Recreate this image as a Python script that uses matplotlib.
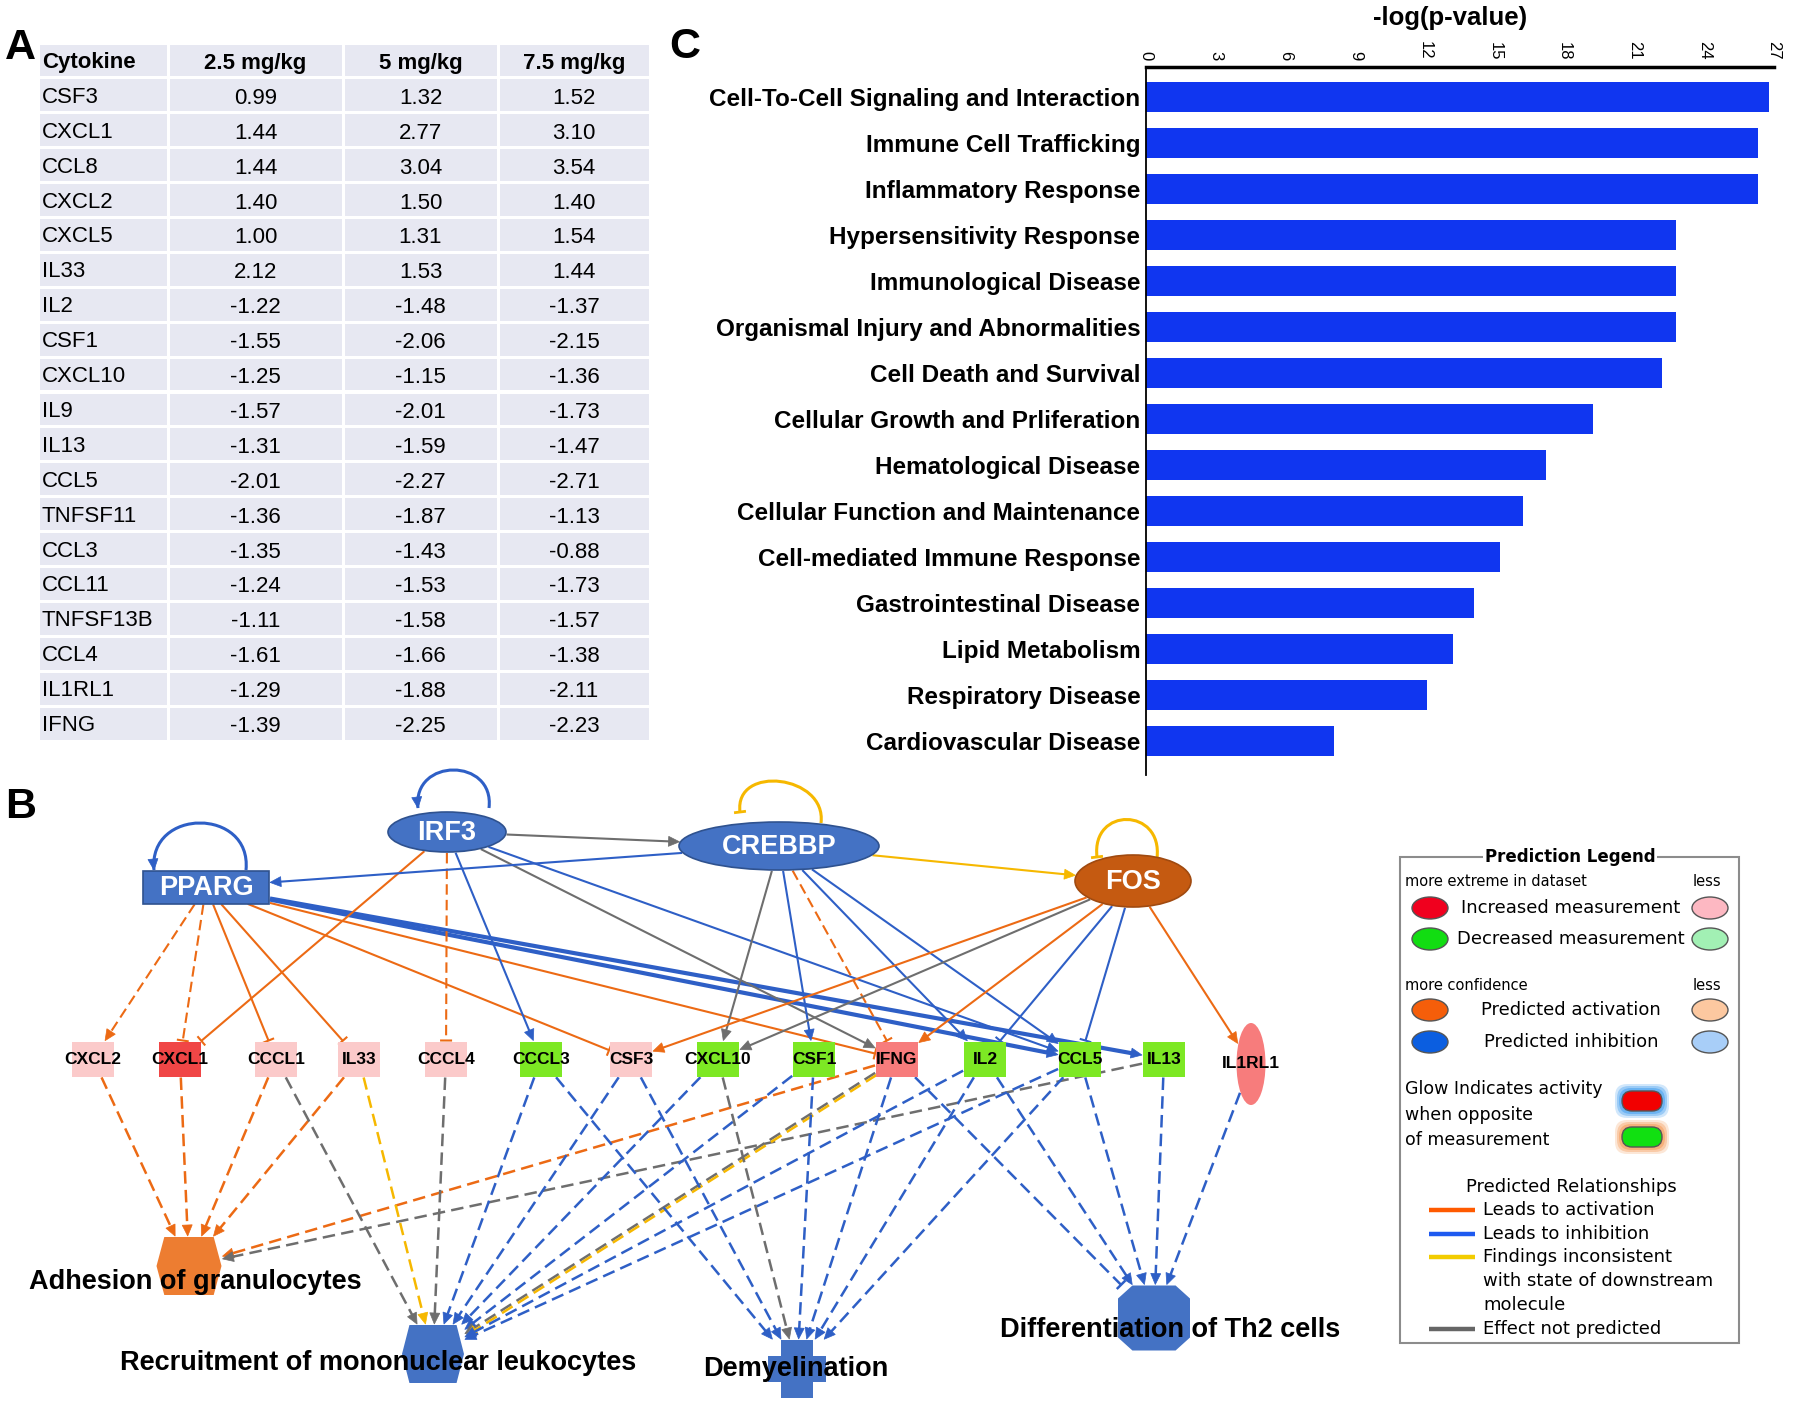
import numpy as np
import matplotlib
matplotlib.use('Agg')
import matplotlib.pyplot as plt
from matplotlib.patches import Rectangle, Ellipse, Polygon, FancyBboxPatch, PathPatch
from matplotlib.path import Path

plt.rcParams['font.family'] = ['Liberation Sans', 'DejaVu Sans']

# ---------------- panel A: fold change table
cytokines = ['CSF3', 'CXCL1', 'CCL8', 'CXCL2', 'CXCL5', 'IL33', 'IL2', 'CSF1', 'CXCL10', 'IL9',
             'IL13', 'CCL5', 'TNFSF11', 'CCL3', 'CCL11', 'TNFSF13B', 'CCL4', 'IL1RL1', 'IFNG']
doses = ['2.5 mg/kg', '5 mg/kg', '7.5 mg/kg']
fc_2_5 = [0.99, 1.44, 1.44, 1.40, 1.00, 2.12, -1.22, -1.55, -1.25, -1.57,
          -1.31, -2.01, -1.36, -1.35, -1.24, -1.11, -1.61, -1.29, -1.39]
fc_5 = [1.32, 2.77, 3.04, 1.50, 1.31, 1.53, -1.48, -2.06, -1.15, -2.01,
        -1.59, -2.27, -1.87, -1.43, -1.53, -1.58, -1.66, -1.88, -2.25]
fc_7_5 = [1.52, 3.10, 3.54, 1.40, 1.54, 1.44, -1.37, -2.15, -1.36, -1.73,
          -1.47, -2.71, -1.13, -0.88, -1.73, -1.57, -1.38, -2.11, -2.23]

# ---------------- panel C: enriched categories
pathways = ['Cell-To-Cell Signaling and Interaction', 'Immune Cell Trafficking', 'Inflammatory Response',
            'Hypersensitivity Response', 'Immunological Disease', 'Organismal Injury and Abnormalities',
            'Cell Death and Survival', 'Cellular Growth and Prliferation', 'Hematological Disease',
            'Cellular Function and Maintenance', 'Cell-mediated Immune Response', 'Gastrointestinal Disease',
            'Lipid Metabolism', 'Respiratory Disease', 'Cardiovascular Disease']
neg_log_p = [26.8, 26.3, 26.3, 22.8, 22.8, 22.8, 22.2, 19.2, 17.2, 16.2, 15.2, 14.1, 13.2, 12.1, 8.1]

# ---------------- panel B: regulator network
regulators = ['PPARG', 'IRF3', 'CREBBP', 'FOS']
regulator_state = ['inhibited', 'inhibited', 'inhibited', 'activated']
molecules = ['CXCL2', 'CXCL1', 'CCCL1', 'IL33', 'CCCL4', 'CCCL3', 'CSF3', 'CXCL10', 'CSF1',
             'IFNG', 'IL2', 'CCL5', 'IL13', 'IL1RL1']
molecule_state = ['up_low', 'up_high', 'up_low', 'up_low', 'up_low', 'down', 'up_low', 'down', 'down',
                  'up_mid', 'down', 'down', 'down', 'up_mid']
functions = ['Adhesion of granulocytes', 'Recruitment of mononuclear leukocytes',
             'Demyelination', 'Differentiation of Th2 cells']
function_state = ['activated', 'inhibited', 'inhibited', 'inhibited']
ADH, REC, DEM, TH2 = functions

# (source, target, relationship, dashed, end)
upstream_edges = [
    ('PPARG', 'CXCL2', 'activation', True, 'arrow'),
    ('PPARG', 'CXCL1', 'activation', True, 'bar'),
    ('PPARG', 'CCCL1', 'activation', False, 'bar'),
    ('PPARG', 'IL33', 'activation', False, 'bar'),
    ('PPARG', 'CSF3', 'activation', False, 'bar'),
    ('PPARG', 'IFNG', 'activation', False, 'bar'),
    ('PPARG', 'CCL5', 'inhibition', False, 'arrow'),
    ('PPARG', 'IL13', 'inhibition', False, 'arrow'),
    ('IRF3', 'CXCL1', 'activation', False, 'bar'),
    ('IRF3', 'CCCL4', 'activation', True, 'bar'),
    ('IRF3', 'CCCL3', 'inhibition', False, 'arrow'),
    ('IRF3', 'CREBBP', 'unpredicted', False, 'arrow'),
    ('IRF3', 'IFNG', 'unpredicted', False, 'arrow'),
    ('IRF3', 'CCL5', 'inhibition', False, 'arrow'),
    ('CREBBP', 'PPARG', 'inhibition', False, 'arrow'),
    ('CREBBP', 'CXCL10', 'unpredicted', False, 'arrow'),
    ('CREBBP', 'CSF1', 'inhibition', False, 'arrow'),
    ('CREBBP', 'IFNG', 'activation', True, 'bar'),
    ('CREBBP', 'IL2', 'inhibition', False, 'arrow'),
    ('CREBBP', 'CCL5', 'inhibition', False, 'arrow'),
    ('CREBBP', 'FOS', 'inconsistent', False, 'arrow'),
    ('FOS', 'CSF3', 'activation', False, 'arrow'),
    ('FOS', 'CXCL10', 'unpredicted', False, 'arrow'),
    ('FOS', 'IFNG', 'activation', False, 'arrow'),
    ('FOS', 'IL2', 'inhibition', False, 'bar'),
    ('FOS', 'CCL5', 'inhibition', False, 'bar'),
    ('FOS', 'IL1RL1', 'activation', False, 'arrow'),
]
downstream_edges = [
    ('CXCL2', ADH, 'activation', True, 'arrow'),
    ('CXCL1', ADH, 'activation', True, 'arrow'),
    ('CCCL1', ADH, 'activation', True, 'arrow'),
    ('IL33', ADH, 'activation', True, 'arrow'),
    ('IFNG', ADH, 'activation', True, 'arrow'),
    ('IL13', ADH, 'unpredicted', True, 'arrow'),
    ('CCCL1', REC, 'unpredicted', True, 'arrow'),
    ('IL33', REC, 'inconsistent', True, 'arrow'),
    ('CCCL4', REC, 'unpredicted', True, 'arrow'),
    ('CCCL3', REC, 'inhibition', True, 'arrow'),
    ('CSF3', REC, 'inhibition', True, 'arrow'),
    ('CXCL10', REC, 'inhibition', True, 'arrow'),
    ('CSF1', REC, 'inhibition', True, 'arrow'),
    ('IFNG', REC, 'unpredicted', True, 'arrow'),
    ('IFNG', REC, 'inconsistent', True, 'arrow'),
    ('IL2', REC, 'inhibition', True, 'arrow'),
    ('CCL5', REC, 'inhibition', True, 'arrow'),
    ('CCCL3', DEM, 'inhibition', True, 'arrow'),
    ('CSF3', DEM, 'inhibition', True, 'arrow'),
    ('CXCL10', DEM, 'unpredicted', True, 'arrow'),
    ('CSF1', DEM, 'inhibition', True, 'arrow'),
    ('IFNG', DEM, 'inhibition', True, 'arrow'),
    ('IL2', DEM, 'inhibition', True, 'arrow'),
    ('CCL5', DEM, 'inhibition', True, 'arrow'),
    ('IFNG', TH2, 'inhibition', True, 'bar'),
    ('IL2', TH2, 'inhibition', True, 'arrow'),
    ('CCL5', TH2, 'inhibition', True, 'arrow'),
    ('IL13', TH2, 'inhibition', True, 'arrow'),
    ('IL1RL1', TH2, 'inhibition', True, 'arrow'),
]
# (node, relationship, end)
self_loops = [('PPARG', 'inhibition', 'arrow'), ('IRF3', 'inhibition', 'arrow'),
              ('CREBBP', 'inconsistent', 'bar'), ('FOS', 'inconsistent', 'bar')]

# legend content
measure_rows = ['Increased measurement', 'Decreased measurement']
confidence_rows = ['Predicted activation', 'Predicted inhibition']
glow_lines = ['Glow Indicates activity', 'when opposite', 'of measurement']
relationship_rows = [('activation', ['Leads to activation']),
                     ('inhibition', ['Leads to inhibition']),
                     ('inconsistent', ['Findings inconsistent', 'with state of downstream', 'molecule']),
                     ('unpredicted', ['Effect not predicted'])]

# ---------------- layout / styles (pixel coordinates)
layout = {
    'PPARG': (206, 887, 126, 33, 'rect'),
    'IRF3': (447, 832, 118, 40, 'ellipse'),
    'CREBBP': (779, 846, 200, 48, 'ellipse'),
    'FOS': (1133, 881, 116, 52, 'ellipse'),
    ADH: (189, 1266, 65, 58, 'hexagon'),
    REC: (433, 1354, 62, 58, 'hexagon'),
    DEM: (797, 1369, 58, 58, 'cross'),
    TH2: (1154, 1318, 72, 65, 'octagon'),
}
mol_x = [93, 180, 276, 359, 446, 541, 631, 718, 814, 897, 985, 1080, 1164, 1251]
for m, x in zip(molecules, mol_x):
    layout[m] = (x, 1059, 42, 35, 'rect')
layout['IL1RL1'] = (1251, 1064, 29, 82, 'ellipse')
function_label_pos = {ADH: (195, 1282), REC: (378, 1363), DEM: (796, 1369), TH2: (1170, 1330)}
loop_anchor = {'PPARG': ((246, 870), (154, 870), 47), 'IRF3': ((489, 808), (418, 808), 38),
               'CREBBP': ((821, 823), (740, 812), 36), 'FOS': ((1157, 858), (1097, 857), 38)}
thick_links = {('PPARG', 'CCL5'), ('PPARG', 'IL13')}

edge_col = {'activation': '#EC6A14', 'inhibition': '#2E5FC6', 'inconsistent': '#F6B800',
            'unpredicted': '#6E6E6E'}
node_blue, node_blue_edge = '#4472C4', '#2F528F'
reg_col = {'inhibited': node_blue, 'activated': '#C55A11'}
func_col = {'inhibited': node_blue, 'activated': '#ED7D31'}
mol_col = {'up_high': '#F04646', 'up_mid': '#F77C7C', 'up_low': '#FBCACA', 'down': '#7DE824'}

fig = plt.figure(figsize=(18, 14.06), dpi=100)
ax = fig.add_axes([0, 0, 1, 1])
ax.set_xlim(0, 1800)
ax.set_ylim(1406, 0)
ax.axis('off')

# panel letters
ax.text(20, 48, 'A', ha='center', va='center', fontsize=31, weight='bold')
ax.text(685, 47, 'C', ha='center', va='center', fontsize=31, weight='bold')
ax.text(21, 807, 'B', ha='center', va='center', fontsize=31, weight='bold')

# ---------------- table
col_edges = [38, 168, 343, 498, 650]
row_top, row_h = 43, 34.9
rows = [['Cytokine'] + doses] + [[c, f'{a:.2f}', f'{b:.2f}', f'{d:.2f}']
                                  for c, a, b, d in zip(cytokines, fc_2_5, fc_5, fc_7_5)]
for r, row in enumerate(rows):
    y0 = row_top + r * row_h
    for c, txt in enumerate(row):
        x0, x1 = col_edges[c], col_edges[c + 1]
        ax.add_patch(Rectangle((x0 + 1.5, y0 + 1.5), x1 - x0 - 3, row_h - 3, fc='#E7E8F2', ec='none'))
        wt = 'bold' if r == 0 else 'normal'
        if c == 0:
            ax.text(x0 + 4, y0 + row_h / 2 + 2, txt, ha='left', va='center', fontsize=16, weight=wt)
        else:
            ax.text((x0 + x1) / 2, y0 + row_h / 2 + 3, txt, ha='center', va='center', fontsize=16, weight=wt)

# ---------------- bar chart
bx = fig.add_axes([1146 / 1800, 1 - 775 / 1406, 628 / 1800, 708 / 1406])
bx.patch.set_alpha(0)
ypos = np.arange(len(pathways))
bx.barh(ypos, neg_log_p, height=0.65, color='#1036F0')
bx.set_xlim(0, 27)
bx.set_ylim(len(pathways) - 0.27, -0.65)
bx.set_xticks(np.arange(0, 28, 3))
bx.xaxis.tick_top()
bx.tick_params(axis='x', length=0, labelsize=12, labelrotation=-90, pad=5)
bx.set_yticks(ypos)
bx.set_yticklabels(pathways, fontsize=17.5, fontweight='bold')
bx.tick_params(axis='y', length=0, pad=4)
for s in ['right', 'bottom']:
    bx.spines[s].set_visible(False)
bx.spines['top'].set_linewidth(2.5)
bx.spines['left'].set_linewidth(1.3)
ax.text(1450, 18, '-log(p-value)', ha='center', va='center', fontsize=18.5, weight='bold')


# ---------------- network helpers
def reach(node, u):
    cx, cy, w, h, kind = layout[node]
    ux, uy = abs(u[0]) + 1e-9, abs(u[1]) + 1e-9
    if kind == 'ellipse':
        return 1 / np.hypot(ux / (w / 2), uy / (h / 2))
    return min(w / 2 / ux, h / 2 / uy)


def draw_end(tip, u, color, end, lw):
    n = np.array([-u[1], u[0]])
    if end == 'arrow':
        tri = [tip, tip - u * 11 + n * 5, tip - u * 11 - n * 5]
        ax.add_patch(Polygon(tri, closed=True, fc=color, ec=color, lw=0.5, zorder=2))
    else:
        ax.plot([tip[0] - n[0] * 6, tip[0] + n[0] * 6], [tip[1] - n[1] * 6, tip[1] + n[1] * 6],
                color=color, lw=lw, zorder=2, solid_capstyle='butt')


def draw_link(src, dst, rel, dashed, end, lw=1.5, shift=0.0):
    s = np.array(layout[src][:2], float)
    t = np.array(layout[dst][:2], float)
    u = (t - s) / np.hypot(*(t - s))
    n = np.array([-u[1], u[0]])
    p0 = s + u * (reach(src, u) + 1) + n * shift
    tip = t - u * (reach(dst, -u) + 1) + n * shift
    p1 = tip - u * 9 if end == 'arrow' else tip
    color = edge_col[rel]
    ls = (0, (5, 2.5)) if dashed else '-'
    ax.plot([p0[0], p1[0]], [p0[1], p1[1]], color=color, lw=lw, ls=ls, zorder=2, solid_capstyle='butt')
    draw_end(tip, u, color, end, min(lw, 2))


def draw_loop(node, rel, end):
    (rx, ry), (lx, ly), rise = loop_anchor[node]
    hc = rise / 0.75
    verts = [(rx, ry), (rx + 6, ry - hc), (lx - 6, ly - hc), (lx, ly)]
    color = edge_col[rel]
    path = Path(verts, [Path.MOVETO, Path.CURVE4, Path.CURVE4, Path.CURVE4])
    ax.add_patch(PathPatch(path, fc='none', ec=color, lw=2.2, zorder=2))
    u = np.array([lx - (lx - 6), ly - (ly - hc)])
    u = u / np.hypot(*u)
    draw_end(np.array([lx, ly], float), u, color, end, 2)


def node_patch(node, fc, ec='none', lw=0):
    cx, cy, w, h, kind = layout[node]
    if kind == 'rect':
        p = Rectangle((cx - w / 2, cy - h / 2), w, h)
    elif kind == 'ellipse':
        p = Ellipse((cx, cy), w, h)
    elif kind == 'hexagon':
        p = Polygon([(cx - w * 0.38, cy - h / 2), (cx + w * 0.38, cy - h / 2), (cx + w / 2, cy),
                     (cx + w * 0.38, cy + h / 2), (cx - w * 0.38, cy + h / 2), (cx - w / 2, cy)])
    elif kind == 'octagon':
        p = Polygon([(cx - w * 0.3, cy - h / 2), (cx + w * 0.3, cy - h / 2), (cx + w / 2, cy - h * 0.3),
                     (cx + w / 2, cy + h * 0.3), (cx + w * 0.3, cy + h / 2), (cx - w * 0.3, cy + h / 2),
                     (cx - w / 2, cy + h * 0.3), (cx - w / 2, cy - h * 0.3)])
    else:
        a, b = w * 0.27, h * 0.23
        p = Polygon([(cx - a, cy - h / 2), (cx + a, cy - h / 2), (cx + a, cy - b), (cx + w / 2, cy - b),
                     (cx + w / 2, cy + b), (cx + a, cy + b), (cx + a, cy + h / 2), (cx - a, cy + h / 2),
                     (cx - a, cy + b), (cx - w / 2, cy + b), (cx - w / 2, cy - b), (cx - a, cy - b)])
    p.set_facecolor(fc)
    p.set_edgecolor(ec)
    p.set_linewidth(lw)
    p.set_zorder(3)
    ax.add_patch(p)


# edges
for src, dst, rel, dashed, end in upstream_edges:
    lw = 3.0 if (src, dst) in thick_links else 1.5
    draw_link(src, dst, rel, dashed, end, lw=lw)
seen = {}
for src, dst, rel, dashed, end in downstream_edges:
    k = seen.get((src, dst), 0)
    seen[(src, dst)] = k + 1
    draw_link(src, dst, rel, dashed, end, lw=1.8, shift=-2.5 * k)
for node, rel, end in self_loops:
    draw_loop(node, rel, end)

# nodes
for node, st in zip(regulators, regulator_state):
    node_patch(node, reg_col[st], ec=node_blue_edge if st == 'inhibited' else '#A04A10', lw=1.2)
    cx, cy = layout[node][:2]
    ax.text(cx, cy + 1, node, ha='center', va='center', color='white', fontsize=19.5, weight='bold', zorder=5)
for node, st in zip(molecules, molecule_state):
    node_patch(node, mol_col[st])
    cx, cy = layout[node][:2]
    ax.text(cx, cy, node, ha='center', va='center', fontsize=12.5, weight='bold', zorder=5)
for node, st in zip(functions, function_state):
    node_patch(node, func_col[st])
    tx, ty = function_label_pos[node]
    ax.text(tx, ty, node, ha='center', va='center', fontsize=19.5, weight='bold', zorder=5)

# ---------------- prediction legend
lf = 'DejaVu Sans'
ax.add_patch(Rectangle((1400, 857), 339, 486, fill=False, ec='#8C8C8C', lw=1.5, zorder=3))
ax.text(1570, 857, 'Prediction Legend', ha='center', va='center', fontsize=12, weight='bold', family=lf,
        bbox=dict(fc='white', ec='none', pad=1.5), zorder=4)
ax.text(1405, 882, 'more extreme in dataset', ha='left', va='center', fontsize=10.5, family=lf)
ax.text(1693, 882, 'less', ha='left', va='center', fontsize=10.5, family=lf)
ax.text(1405, 985, 'more confidence', ha='left', va='center', fontsize=10.5, family=lf)
ax.text(1693, 985, 'less', ha='left', va='center', fontsize=10.5, family=lf)
swatches = [('#F0001E', '#FDB8C2'), ('#12DD12', '#A2F0B4'), ('#F55E0A', '#FCC8A0'), ('#0B5EE0', '#A8CEF8')]
for i, (label, ys) in enumerate(zip(measure_rows + confidence_rows, [908, 939, 1010, 1042])):
    ax.add_patch(Ellipse((1430, ys), 36, 22, fc=swatches[i][0], ec='#555555', lw=1, zorder=3))
    ax.add_patch(Ellipse((1710, ys), 36, 22, fc=swatches[i][1], ec='#555555', lw=1, zorder=3))
    ax.text(1571, ys, label, ha='center', va='center', fontsize=13, family=lf)
for line, ys in zip(glow_lines, [1089, 1115, 1140]):
    ax.text(1405, ys, line, ha='left', va='center', fontsize=12.5, family=lf)
for ys, fc, glow in [(1101, '#F20000', '#4BA3F0'), (1137, '#11E011', '#F5A060')]:
    for k, al in [(7, 0.25), (5, 0.4), (3, 0.6)]:
        ax.add_patch(FancyBboxPatch((1642 - 20 - k, ys - 10 - k), 40 + 2 * k, 20 + 2 * k,
                                    boxstyle='round,pad=0,rounding_size=12', fc=glow, ec='none', alpha=al, zorder=3))
    ax.add_patch(FancyBboxPatch((1622, ys - 10), 40, 20, boxstyle='round,pad=0,rounding_size=10',
                                fc=fc, ec='#555555', lw=1, zorder=4))
ax.text(1571, 1187, 'Predicted Relationships', ha='center', va='center', fontsize=13, family=lf)
rel_line_col = {'activation': '#FF5A00', 'inhibition': '#1E5AF0', 'inconsistent': '#F2CC00',
                'unpredicted': '#666666'}
ys = 1210
for rel, lines in relationship_rows:
    ax.plot([1429, 1475], [ys, ys], color=rel_line_col[rel], lw=3.2, solid_capstyle='butt')
    for line in lines:
        ax.text(1483, ys, line, ha='left', va='center', fontsize=13, family=lf)
        ys += 23.7

fig.savefig('out.png', dpi=100)
